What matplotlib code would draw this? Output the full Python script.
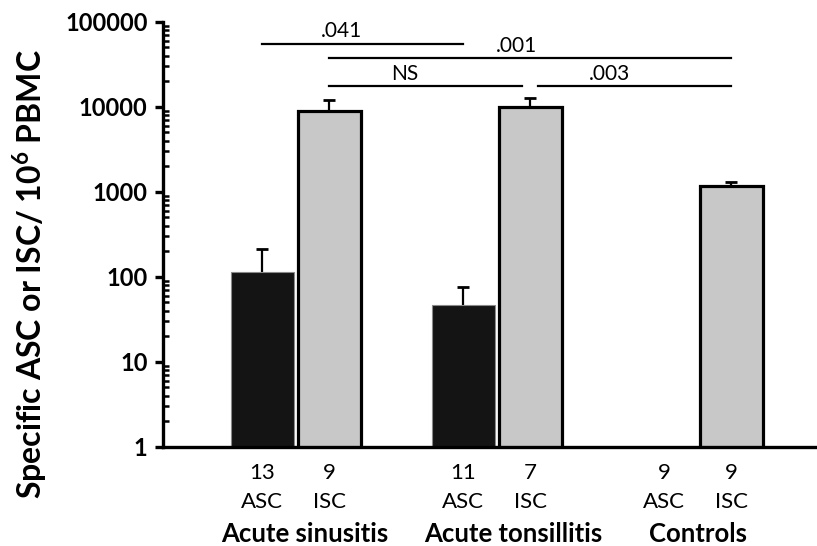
import numpy as np
import matplotlib
matplotlib.use("Agg")
import matplotlib.pyplot as plt

plt.rcParams['font.family'] = ['Lato', 'DejaVu Sans']
plt.rcParams['mathtext.fontset'] = 'custom'
plt.rcParams['mathtext.rm'] = 'Lato'
plt.rcParams['mathtext.bf'] = 'Lato:bold'

# Data
groups = ['Acute sinusitis', 'Acute tonsillitis', 'Controls']
asc_mean = [113, 46.5, np.nan]
asc_err = [97, 28.5, np.nan]
isc_mean = [8900, 9800, 1170]
isc_err = [3100, 2800, 140]
asc_n = ['13', '11', '9']
isc_n = ['9', '7', '9']

# significance brackets: (from bar, to bar, level, label)
# bar index: 0=ASC sinusitis, 1=ISC sinusitis, 2=ASC tons., 3=ISC tons., 4=ASC ctrl, 5=ISC ctrl
sig_pairs = [(0, 2, 55000, '.041'), (1, 5, 37000, '.001'),
             (1, 3, 17500, 'NS'), (3, 5, 17500, '.003')]

fig = plt.figure(figsize=(8.17, 5.46), dpi=100)
ax = fig.add_axes([163 / 817, 1 - 446.7 / 546, 1 - 163 / 817, (446.7 - 21.7) / 546])

group_x = np.arange(len(groups)) * 3.0
asc_x = group_x
isc_x = group_x + 1
bar_x = np.ravel(np.column_stack([asc_x, isc_x]))
w = 0.94

ax.bar(asc_x, asc_mean, width=w, color='#141414', edgecolor='#8a8a8a', linewidth=0.8, zorder=2)
ax.bar(isc_x, isc_mean, width=w, color='#c8c8c8', edgecolor='black', linewidth=2.3, zorder=2)

# upper error bars only
for xs, m, e in [(asc_x, asc_mean, asc_err), (isc_x, isc_mean, isc_err)]:
    m = np.asarray(m, float)
    top = m + np.asarray(e, float)
    ax.vlines(xs, m, top, color='black', lw=1.6, zorder=1)
    ax.plot(xs, top, ls='none', marker='_', ms=9, mew=2, color='black', zorder=1)

ax.set_yscale('log')
ax.set_ylim(1, 100000)
ax.set_xlim(-1.48, 8.28)

# significance lines
gap = 0.12
for a, b, lvl, lab in sig_pairs:
    x0, x1 = bar_x[a], bar_x[b]
    if lab == 'NS':
        x1 -= gap
    if lab == '.003':
        x0 += gap
    ax.plot([x0, x1], [lvl, lvl], color='black', lw=1.6, clip_on=False)
label_x = [1.19, 3.8, 2.13, 5.19]
for (a, b, lvl, lab), lx in zip(sig_pairs, label_x):
    ax.text(lx, lvl * 1.07, lab, ha='center', va='bottom', fontsize=15)

for s in ['top', 'right']:
    ax.spines[s].set_visible(False)
ax.spines['left'].set_linewidth(2.4)
ax.spines['bottom'].set_linewidth(2.4)

ax.set_yticks([1, 10, 100, 1000, 10000, 100000])
ax.set_yticklabels(['1', '10', '100', '1000', '10000', '100000'], fontsize=17, fontweight='bold')
ax.tick_params(axis='y', which='major', direction='out', length=6, width=2.4, pad=5)
ax.tick_params(axis='y', which='minor', direction='in', length=4, width=1.8)
ax.set_xticks([])

# bottom category labels
trans = ax.get_xaxis_transform()
for gx, na, ni in zip(group_x, asc_n, isc_n):
    for xx, n, t in [(gx, na, 'ASC'), (gx + 1, ni, 'ISC')]:
        ax.text(xx, -0.062, n, transform=trans, ha='center', va='center', fontsize=16)
        ax.text(xx, -0.13, t, transform=trans, ha='center', va='center', fontsize=16)
name_off = [0.13, 0.25, 0.0]
for gx, g, off in zip(group_x, groups, name_off):
    ax.text(gx + 0.5 + off, -0.205, g, transform=trans, ha='center', va='center',
            fontsize=18.5, fontweight='bold')

fig.text(30 / 817, 1 - 274 / 546, r'Specific ASC or ISC/ 10$^{\mathbf{6}}$ PBMC', rotation=90,
         ha='center', va='center', fontsize=23, fontweight='bold')

fig.savefig('out.png', dpi=100)
